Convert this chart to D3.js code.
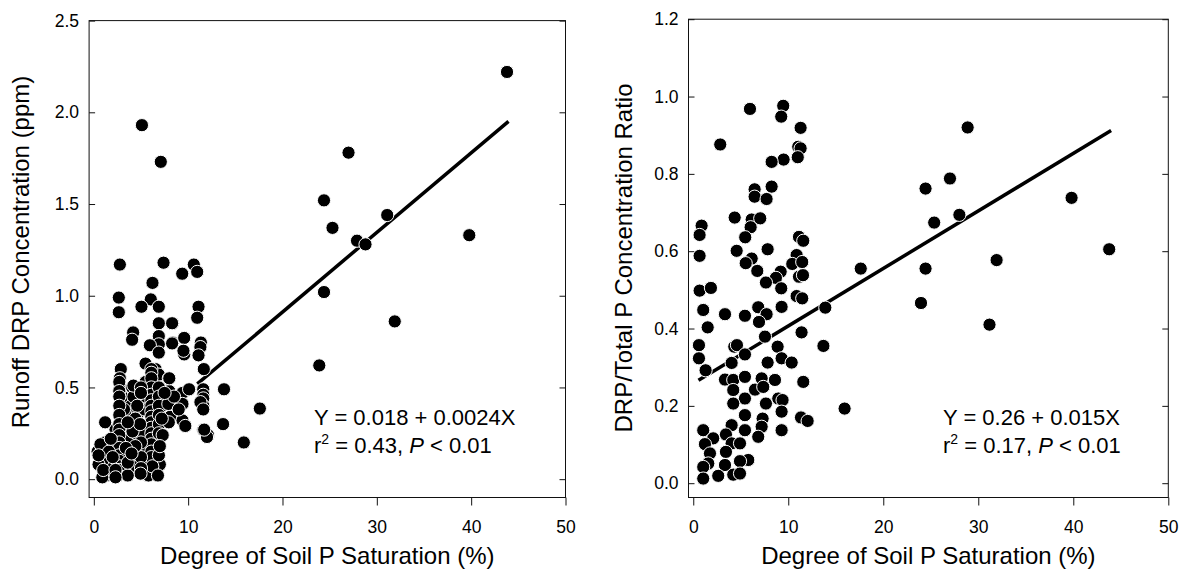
<!DOCTYPE html>
<html>
<head>
<meta charset="utf-8">
<script src="https://cdn.jsdelivr.net/npm/d3@7"></script>
<style>
  body { margin: 0; background: #fff; }
  text { font-family: "Liberation Sans", Arial, sans-serif; fill: #000; }
</style>
</head>
<body>
<div id="chart"></div>
<script>
// x ticks shared by both panels
var satTicks = [0, 10, 20, 30, 40, 50];
var drpTicks = [0, 0.5, 1.0, 1.5, 2.0, 2.5];
var ratioTicks = [0, 0.2, 0.4, 0.6, 0.8, 1.0, 1.2];

// left panel: soil P saturation (%) vs runoff DRP (ppm)
var drpPoints = [
  [43.8,2.22],[5.1,1.93],[7.1,1.73],[27.0,1.78],[24.4,1.52],[25.3,1.37],[31.1,1.44],
  [27.9,1.30],[28.8,1.28],[39.8,1.33],[24.4,1.02],[23.9,0.62],[31.9,0.86],[17.6,0.385],
  [15.9,0.20],[13.8,0.49],[13.7,0.30],[12.1,0.24],[11.6,0.27],
  [2.76,1.17],[7.39,1.18],[10.6,1.17],[10.96,1.13],[9.37,1.12],[6.22,1.07],[2.65,0.99],
  [2.65,0.91],[6.04,0.98],[5.05,0.94],[6.89,0.94],[11.1,0.94],[10.96,0.88],[6.89,0.85],
  [8.34,0.85],[4.17,0.80],[4.06,0.76],[6.89,0.78],[6.89,0.735],[5.94,0.73],[8.38,0.745],
  [9.58,0.77],[11.35,0.745],[11.3,0.72],[9.58,0.68],[11.1,0.675],[6.89,0.69],[11.66,0.60],
  [2.86,0.60],[5.48,0.63],[6.54,0.60],[6.89,0.57],[7.95,0.55],[2.76,0.55],[2.76,0.50],
  [4.06,0.50],
  [1.5,0.08],[1.3,0.02],[2.0,0.03],[3.0,0.03],[3.2,0.12],[3.0,0.22],[3.3,0.28],[3.8,0.22],
  [3.9,0.36],[3.5,0.42],[4.5,0.07],[4.5,0.25],[4.7,0.36],[5.3,0.15],[5.3,0.25],[5.4,0.38],
  [5.5,0.45],[5.6,0.09],[5.7,0.02],[6.5,0.05],[6.6,0.20],[6.5,0.33],[6.6,0.48],[7.0,0.08],
  [7.2,0.40],[1.9,0.17],[2.3,0.27],[1.2,0.20],[0.4,0.15],[3.0,0.45],[3.2,0.38],[4.2,0.45],
  [5.5,0.53],[5.8,0.02],[8.0,0.48],[8.1,0.34],
  [2.7,0.53],[2.7,0.48],[2.7,0.45],[2.7,0.40],[2.7,0.35],[2.7,0.30],[2.7,0.27],[2.7,0.24],
  [2.7,0.20],[2.7,0.17],[2.7,0.13],[2.7,0.10],[2.7,0.07],[2.7,0.05],[2.6,0.02],
  [6.1,0.60],[6.1,0.58],[6.1,0.55],[6.1,0.50],[6.1,0.46],[6.1,0.43],[6.1,0.40],[6.1,0.37],
  [6.1,0.34],[6.1,0.31],[6.1,0.28],[6.1,0.25],[6.1,0.22],[6.1,0.19],[6.1,0.15],[6.1,0.12],
  [6.2,0.07],
  [6.9,0.50],[6.9,0.45],[6.9,0.40],[6.9,0.35],[6.9,0.30],[6.9,0.25],[6.9,0.13],[6.8,0.02],
  [4.2,0.51],[4.6,0.40],[4.1,0.26],[4.4,0.33],[5.0,0.50],[5.0,0.47],[4.9,0.30],[5.0,0.20],
  [5.0,0.12],[5.0,0.06],[4.95,0.03],[4.4,0.18],[3.6,0.31],[3.4,0.17],[3.6,0.02],[3.6,0.09],
  [4.0,0.14],
  [0.7,0.19],[0.9,0.10],[0.9,0.01],[1.2,0.31],[1.6,0.15],[0.5,0.08],[0.5,0.13],[1.0,0.05],
  [1.8,0.22],[2.0,0.12],[2.3,0.05],[2.3,0.01],
  [7.9,0.41],[7.95,0.31],[8.0,0.55],[8.3,0.74],[8.3,0.85],[9.4,0.47],[9.4,0.41],[9.4,0.32],
  [9.7,0.29],[10.1,0.49],[9.5,0.70],[9.0,0.38],[8.5,0.45],[7.5,0.47],[7.3,0.24],[7.2,0.33],
  [7.0,0.18],
  [11.6,0.49],[11.6,0.46],[11.6,0.44],[11.6,0.40],[11.3,0.42],[11.6,0.38],[12.0,0.23],[11.7,0.27]
];

// right panel: soil P saturation (%) vs DRP/TP ratio
var ratioPoints = [
  [5.97,0.968],[9.47,0.976],[9.26,0.948],[11.3,0.919],[2.84,0.876],[11.05,0.870],[11.3,0.866],
  [11.0,0.843],[9.51,0.837],[8.25,0.831],[6.46,0.760],[8.25,0.767],[6.46,0.741],[7.72,0.735],
  [4.36,0.687],[6.15,0.682],[7.05,0.685],[6.04,0.662],[0.88,0.666],[0.67,0.642],[5.47,0.636],
  [11.13,0.637],[11.58,0.627],[0.67,0.588],[4.57,0.601],[7.83,0.605],[6.15,0.581],[5.52,0.569],
  [6.74,0.549],[10.88,0.590],[10.42,0.567],[11.47,0.572],[11.13,0.534],[11.55,0.538],[9.2,0.547],
  [8.7,0.531],[7.65,0.519],[9.26,0.504],[0.67,0.498],[1.86,0.505],[10.88,0.484],[11.47,0.478],
  [1.05,0.448],[3.34,0.437],[5.44,0.433],[6.84,0.455],[7.72,0.437],[6.92,0.417],[9.3,0.456],
  [1.52,0.403],[7.55,0.379],[11.4,0.390],[0.6,0.357],[4.32,0.353],[4.6,0.357],[8.88,0.353],
  [13.7,0.355],[5.44,0.333],[0.6,0.323],[4.04,0.311],[9.3,0.323],[7.83,0.312],[10.36,0.312],
  [1.3,0.292],[3.34,0.268],[4.21,0.267],[5.44,0.275],[7.2,0.271],[8.6,0.267],[11.58,0.262],
  [4.21,0.241],[6.5,0.242],[7.37,0.249],[5.44,0.219],[4.21,0.206],[7.65,0.206],[8.95,0.219],
  [9.4,0.215],[9.3,0.185],[5.44,0.176],[7.3,0.167],[11.34,0.170],[12.04,0.161],[7.2,0.146],
  [4.04,0.150],[5.44,0.137],[9.3,0.137],[1.05,0.137],[6.84,0.120],[3.44,0.126],[2.1,0.116],
  [1.23,0.101],[4.04,0.103],[4.92,0.103],[3.44,0.081],[1.76,0.077],[5.79,0.060],[4.92,0.057],
  [1.58,0.051],[1.05,0.042],[3.34,0.047],[2.63,0.019],[1.05,0.012],[4.21,0.022],[4.92,0.025],
  [28.88,0.920],[27.02,0.788],[24.45,0.762],[28.01,0.694],[25.36,0.674],[39.82,0.738],
  [43.78,0.605],[31.93,0.577],[24.45,0.555],[17.63,0.555],[23.97,0.466],[31.18,0.410],
  [13.9,0.454],[15.93,0.193]
];

// fitted regression lines (end points as drawn)
var drpFit = [[10.97,0.519],[43.96,1.951]];
var ratioFit = [[0.55,0.266],[43.98,0.912]];

var svg = d3.select("#chart")
  .append("svg")
    .attr("width", 1179)
    .attr("height", 571);

function drawPanel(p) {
  var x = d3.scaleLinear().domain([-0.5, 50]).range(p.xRange);
  var y = d3.scaleLinear().domain(p.yDomain).range([497.5, p.yTop]);

  var g = svg.append("g");

  // frame
  g.append("rect")
    .attr("x", p.xRange[0])
    .attr("y", p.yTop)
    .attr("width", p.xRange[1] - p.xRange[0])
    .attr("height", 497.5 - p.yTop)
    .attr("fill", "none")
    .attr("stroke", "#111")
    .attr("stroke-width", 1);

  // bottom axis, ticks out
  g.append("g")
    .attr("transform", "translate(0,497.5)")
    .call(d3.axisBottom(x).tickValues(satTicks).tickSize(8).tickSizeOuter(0).tickPadding(15))
    .call(function(a) { a.select(".domain").remove(); })
    .selectAll("text")
      .style("font-size", "17.5px");

  // left axis, ticks in
  g.append("g")
    .attr("transform", "translate(" + p.xRange[0] + ",0)")
    .call(d3.axisLeft(y).tickValues(p.yTicks).tickFormat(d3.format(".1f")).tickSize(-6).tickSizeOuter(0).tickPadding(10))
    .call(function(a) { a.select(".domain").remove(); })
    .selectAll("text")
      .style("font-size", "17.5px");

  // right axis, ticks in, no labels
  g.append("g")
    .attr("transform", "translate(" + p.xRange[1] + ",0)")
    .call(d3.axisRight(y).tickValues(p.yTicks).tickFormat("").tickSize(-6).tickSizeOuter(0))
    .call(function(a) { a.select(".domain").remove(); });

  g.selectAll(".tick line").attr("stroke", "#111");

  // regression line
  g.append("path")
    .datum(p.fit)
    .attr("fill", "none")
    .attr("stroke", "#000")
    .attr("stroke-width", 3.5)
    .attr("d", d3.line().x(function(d) { return x(d[0]); }).y(function(d) { return y(d[1]); }));

  // points
  g.selectAll("circle.pt")
    .data(p.points)
    .enter()
    .append("circle")
      .attr("class", "pt")
      .attr("cx", function(d) { return x(d[0]); })
      .attr("cy", function(d) { return y(d[1]); })
      .attr("r", 6.6)
      .attr("fill", "#000")
      .attr("stroke", "#fff")
      .attr("stroke-width", 1);

  // axis titles
  g.append("text")
    .attr("x", (p.xRange[0] + p.xRange[1]) / 2)
    .attr("y", 564)
    .attr("text-anchor", "middle")
    .style("font-size", "24px")
    .text("Degree of Soil P Saturation (%)");

  g.append("text")
    .attr("transform", "translate(" + p.yTitleX + "," + p.yTitleY + ")rotate(-90)")
    .attr("text-anchor", "middle")
    .style("font-size", "24px")
    .text(p.yTitle);

  // equation
  g.append("text")
    .attr("x", p.eqX)
    .attr("y", 425)
    .style("font-size", "22px")
    .text(p.eq);

  var t = g.append("text")
    .attr("x", p.eqX)
    .attr("y", 453)
    .style("font-size", "22px");
  t.append("tspan").text("r");
  t.append("tspan").attr("dy", -9).style("font-size", "14px").text("2");
  t.append("tspan").attr("dy", 9).text(" = " + p.r2 + ", ");
  t.append("tspan").style("font-style", "italic").text("P");
  t.append("tspan").text(" < 0.01");
}

drawPanel({
  points: drpPoints, fit: drpFit, yTicks: drpTicks,
  xRange: [89.1, 565.5], yDomain: [-0.1, 2.5], yTop: 20.6,
  yTitle: "Runoff DRP Concentration (ppm)", yTitleX: 29, yTitleY: 252,
  eq: "Y = 0.018 + 0.0024X", r2: "0.43", eqX: 314
});

drawPanel({
  points: ratioPoints, fit: ratioFit, yTicks: ratioTicks,
  xRange: [688.5, 1168.3], yDomain: [-0.037, 1.2], yTop: 19.2,
  yTitle: "DRP/Total P Concentration Ratio", yTitleX: 632, yTitleY: 258,
  eq: "Y = 0.26 + 0.015X", r2: "0.17", eqX: 943
});
</script>
</body>
</html>
